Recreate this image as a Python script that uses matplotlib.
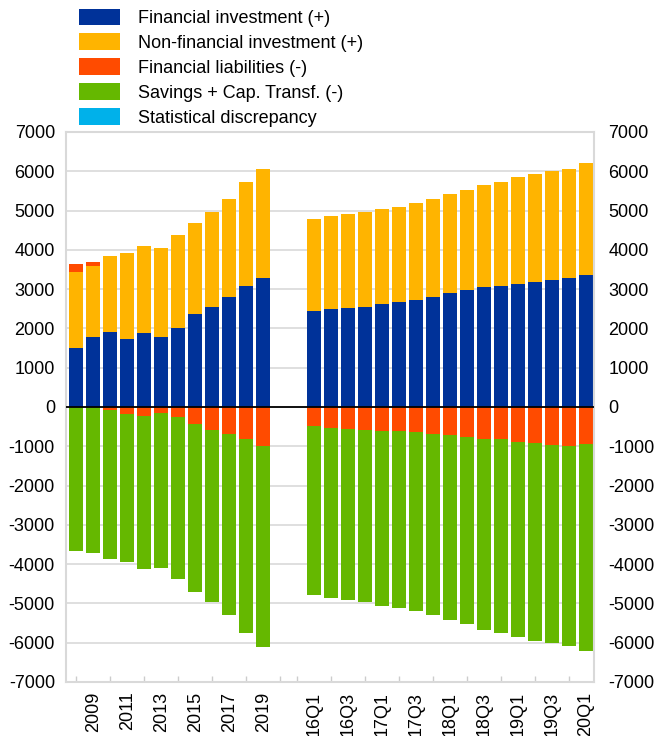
import numpy as np
import matplotlib
matplotlib.use("Agg")
import matplotlib.pyplot as plt
from matplotlib.patches import Patch

plt.rcParams['font.family'] = ['Liberation Sans', 'DejaVu Sans']
plt.rcParams['axes.unicode_minus'] = False

# annual data 2008-2019
years = ['2008', '2009', '2010', '2011', '2012', '2013', '2014', '2015', '2016', '2017', '2018', '2019']
fin_inv_y = [1505, 1786, 1897, 1719, 1880, 1778, 2008, 2372, 2551, 2790, 3087, 3283]
nonfin_inv_y = [1923, 1803, 1955, 2210, 2212, 2278, 2364, 2306, 2408, 2501, 2637, 2781]
fin_liab_y = [212, 94, -76, -170, -220, -161, -263, -441, -577, -689, -824, -985]
savings_y = [-3656, -3715, -3792, -3784, -3913, -3928, -4125, -4261, -4397, -4617, -4941, -5120]
stat_disc_y = [0] * 12

# quarterly data 16Q1-20Q1
quarters = ['16Q1', '16Q2', '16Q3', '16Q4', '17Q1', '17Q2', '17Q3', '17Q4', '18Q1', '18Q2',
            '18Q3', '18Q4', '19Q1', '19Q2', '19Q3', '19Q4', '20Q1']
fin_inv_q = [2434, 2485, 2519, 2553, 2629, 2663, 2723, 2799, 2892, 2977, 3062, 3087, 3138, 3189, 3240, 3291, 3367]
nonfin_inv_q = [2341, 2383, 2383, 2409, 2418, 2426, 2459, 2485, 2519, 2553, 2578, 2629, 2714, 2748, 2757, 2765, 2842]
fin_liab_q = [-475, -527, -560, -577, -611, -611, -636, -679, -712, -763, -806, -823, -882, -925, -967, -984, -933]
savings_q = [-4300, -4333, -4351, -4377, -4445, -4512, -4547, -4606, -4700, -4759, -4860, -4920, -4970, -5021, -5046, -5097, -5267]
stat_disc_q = [0] * 17

series_names = ['Financial investment (+)', 'Non-financial investment (+)',
                'Financial liabilities (-)', 'Savings + Cap. Transf. (-)', 'Statistical discrepancy']
colors = ['#003299', '#FFB400', '#FF4B00', '#65B800', '#00B1EA']

# positions: annual bars, a gap of two slots, then quarters
gap = 2
x_y = np.arange(len(years))
x_q = np.arange(len(quarters)) + len(years) + gap
x = np.concatenate([x_y, x_q])

data = [np.array(a + b, dtype=float) for a, b in [
    (fin_inv_y, fin_inv_q), (nonfin_inv_y, nonfin_inv_q),
    (fin_liab_y, fin_liab_q), (savings_y, savings_q), (stat_disc_y, stat_disc_q)]]

fig = plt.figure(figsize=(6.55, 7.36), dpi=100)
ax = fig.add_axes([0.1008, 0.0734, 0.806, 0.7473])

pos_base = np.zeros(len(x))
neg_base = np.zeros(len(x))
for vals, c in zip(data, colors):
    bottom = np.where(vals >= 0, pos_base, neg_base)
    ax.bar(x, vals, bottom=bottom, width=0.85, color=c, linewidth=0, zorder=2)
    pos_base = pos_base + np.clip(vals, 0, None)
    neg_base = neg_base + np.clip(vals, None, 0)

ax.axhline(0, color='black', linewidth=1.3, zorder=3)

ax.set_ylim(-7000, 7000)
ax.set_xlim(-0.6, x_q[-1] + 0.47)
ax.set_yticks(np.arange(-7000, 7001, 1000))
ax.yaxis.grid(True, color='#d9d9d9', linewidth=1.2, zorder=0)
ax.set_axisbelow(True)

for s in ax.spines.values():
    s.set_color('#d9d9d9')
    s.set_linewidth(1.5)

# small ticks at every slot, labels every other bar
ax.set_xticks(np.arange(0, x_q[-1] + 1), minor=True)
ax.tick_params(axis='x', which='minor', direction='in', length=4, color='#cccccc', width=1)
major_pos = list(x_y[1::2]) + list(x_q[0::2])
major_lab = years[1::2] + quarters[0::2]
ax.set_xticks(major_pos)
ax.set_xticklabels(major_lab, rotation=90, fontsize=13)
ax.tick_params(axis='x', which='major', length=0, pad=7)

ax.tick_params(axis='y', length=0, labelsize=13, pad=8)

ax2 = ax.twinx()
ax2.set_ylim(ax.get_ylim())
ax2.set_yticks(np.arange(-7000, 7001, 1000))
ax2.tick_params(axis='y', length=0, labelsize=13, pad=10.5)
for s in ax2.spines.values():
    s.set_visible(False)

handles = [Patch(facecolor=c, edgecolor='none') for c in colors]
fig.legend(handles, series_names, loc='upper left', bbox_to_anchor=(0.104, 1.003),
           frameon=False, fontsize=13, handlelength=2.25, handleheight=1.05,
           handletextpad=1.0, labelspacing=0.35, borderaxespad=0.2)

fig.savefig('out.png', dpi=100)
